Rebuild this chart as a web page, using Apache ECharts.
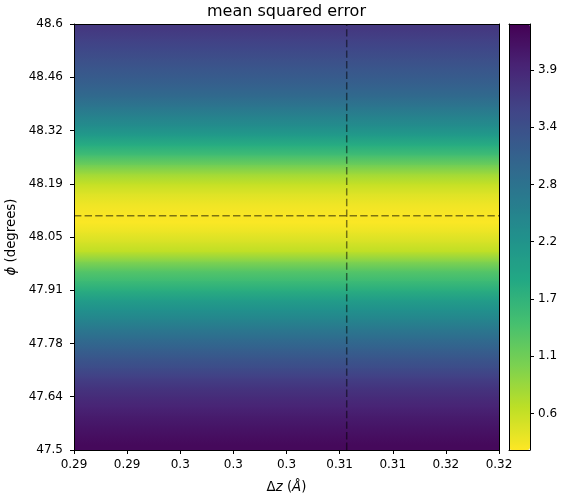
<!DOCTYPE html>
<html>
<head>
<meta charset="utf-8">
<script src="https://cdn.jsdelivr.net/npm/echarts@6/dist/echarts.min.js"></script>
<style>html,body{margin:0;padding:0;background:#fff}#c{width:562px;height:500px}</style>
</head>
<body>
<div id="c"></div>
<script>
// ---- data ----
const phiRows = [47.5125, 47.5375, 47.5625, 47.5875, 47.6125, 47.6375, 47.6625, 47.6875, 47.7125, 47.7375,
  47.7625, 47.7875, 47.8125, 47.8375, 47.8625, 47.8875, 47.9125, 47.9375, 47.9625, 47.9875,
  48.0125, 48.0375, 48.0625, 48.0875, 48.1125, 48.1375, 48.1625, 48.1875, 48.2125, 48.2375,
  48.2625, 48.2875, 48.3125, 48.3375, 48.3625, 48.3875, 48.4125, 48.4375, 48.4625, 48.4875,
  48.5125, 48.5375, 48.5625, 48.5875];
const msePerRow = [4.25, 4.18, 4.11, 4.03, 3.93, 3.83, 3.71, 3.57, 3.40, 3.25,
  3.08, 2.90, 2.70, 2.49, 2.29, 2.08, 1.79, 1.55, 1.34, 1.01,
  0.65, 0.50, 0.37, 0.27, 0.28, 0.35, 0.46, 0.62, 0.84, 1.18,
  1.53, 1.82, 2.13, 2.38, 2.56, 2.76, 2.93, 3.06, 3.17, 3.27,
  3.37, 3.47, 3.57, 3.67];
const mseMin = 0.25, mseMax = 4.34;
const bestDz = 0.30925, bestPhi = 48.105;
const dzRange = [0.29, 0.32];
const phiRange = [47.5, 48.6];
const xTickValues = [0.29, 0.29375, 0.2975, 0.30125, 0.305, 0.30875, 0.3125, 0.31625, 0.32];
const xTickLabels = ["0.29", "0.29", "0.3", "0.3", "0.3", "0.31", "0.31", "0.32", "0.32"];
const yTickValues = [47.5, 47.6375, 47.775, 47.9125, 48.05, 48.1875, 48.325, 48.4625, 48.6];
const yTickLabels = ["47.5", "47.64", "47.78", "47.91", "48.05", "48.19", "48.32", "48.46", "48.6"];
const cbTickValues = [0.6, 1.15, 1.7, 2.25, 2.8, 3.35, 3.9];
const cbTickLabels = ["0.6", "1.1", "1.7", "2.2", "2.8", "3.4", "3.9"];
const viridisR = ['#fde725', '#bddf26', '#7ad151', '#44bf70', '#22a884', '#21918c', '#2a788e', '#355f8d', '#414487', '#482475', '#440154'];

// ---- build table: one band per phi row spanning the dz range ----
const rows = phiRows.map((p, j) => [dzRange[0], p, msePerRow[j]]);
const halfRow = (phiRows[1] - phiRows[0]) / 2;

function labelFor(vals, labs) {
  return function (v) {
    for (let k = 0; k < vals.length; k++) if (Math.abs(vals[k] - v) < 1e-7) return labs[k];
    return '';
  };
}
const FONT = 'DejaVu Sans';
const G = { left: 74, top: 24, width: 425, height: 426 };
const CB = { left: 509, top: 24, width: 21, height: 426 };
const lineBlack = { show: true, onZero: false, lineStyle: { color: '#000', width: 1 } };
const lbl = { color: '#000', fontSize: 12, fontFamily: FONT };
const nameRich = { rich: {
  n: { fontSize: 13.3, fontFamily: FONT, color: '#000' },
  i: { fontSize: 13.3, fontFamily: FONT, fontStyle: 'italic', color: '#000' } } };

// shaded band: gouraud-like fill between this row centre and the next one
function renderBand(params, api) {
  const idx = params.dataIndexInside;
  const n = params.dataInsideLength;
  const p = api.value(1);
  const col = api.visual('color');
  const x0 = api.coord([dzRange[0], p])[0];
  const x1 = api.coord([dzRange[1], p])[0];
  const yc = api.coord([dzRange[0], p])[1];
  const children = [];
  if (idx === 0) {
    const yb = api.coord([dzRange[0], p - halfRow])[1];
    children.push({ type: 'rect', shape: { x: x0, y: yc - 0.5, width: x1 - x0, height: yb - yc + 1.5 }, style: { fill: col } });
  }
  if (idx < n - 1) {
    const pN = api.value(1, idx + 1);
    const colN = api.visual('color', idx + 1);
    const yN = api.coord([dzRange[0], pN])[1];
    children.push({ type: 'rect', shape: { x: x0, y: yN - 0.5, width: x1 - x0, height: yc - yN + 1 },
      style: { fill: { type: 'linear', x: 0, y: 0, x2: 0, y2: 1, colorStops: [{ offset: 0, color: colN }, { offset: 1, color: col }] } } });
  } else {
    const yt = api.coord([dzRange[0], p + halfRow])[1];
    children.push({ type: 'rect', shape: { x: x0, y: yt - 1, width: x1 - x0, height: yc - yt + 1.5 }, style: { fill: col } });
  }
  return { type: 'group', children: children };
}

const chart = echarts.init(document.getElementById('c'), null, { renderer: 'canvas' });
chart.setOption({
  backgroundColor: '#fff',
  animation: false,
  graphic: [{
    type: 'text', x: 286.5, y: 12, z: 100,
    style: { text: 'mean squared error', textAlign: 'center', textVerticalAlign: 'middle', fill: '#000', fontSize: 16, fontFamily: FONT }
  }],
  grid: [
    Object.assign({ show: false, containLabel: false, outerBoundsMode: 'none' }, G),
    Object.assign({ show: false, containLabel: false, outerBoundsMode: 'none' }, CB)
  ],
  visualMap: [{
    type: 'continuous', seriesIndex: 0, dimension: 2, min: mseMin, max: mseMax,
    calculable: false, hoverLink: false, orient: 'vertical',
    left: CB.left, top: CB.top, itemWidth: CB.width, itemHeight: CB.height,
    padding: 0, text: null, showLabel: false,
    inRange: { color: viridisR }
  }],
  xAxis: [
    { gridIndex: 0, type: 'value', min: dzRange[0], max: dzRange[1], position: 'bottom', z: 10,
      axisLine: lineBlack, splitLine: { show: false },
      axisTick: { show: true, length: 4, customValues: xTickValues, lineStyle: { color: '#000' } },
      axisLabel: Object.assign({ customValues: xTickValues, formatter: labelFor(xTickValues, xTickLabels), margin: 9 }, lbl),
      name: '{n|Δ}{i|z}{n| (}{i|Å}{n|)}', nameLocation: 'middle', nameGap: 31, nameTextStyle: nameRich },
    { gridIndex: 0, type: 'value', min: dzRange[0], max: dzRange[1], position: 'top', z: 10,
      axisLine: lineBlack, axisTick: { show: false }, axisLabel: { show: false }, splitLine: { show: false } },
    { gridIndex: 1, type: 'value', min: 0, max: 1, position: 'bottom', z: 10,
      axisLine: lineBlack, axisTick: { show: false }, axisLabel: { show: false }, splitLine: { show: false } },
    { gridIndex: 1, type: 'value', min: 0, max: 1, position: 'top', z: 10,
      axisLine: lineBlack, axisTick: { show: false }, axisLabel: { show: false }, splitLine: { show: false } }
  ],
  yAxis: [
    { gridIndex: 0, type: 'value', min: phiRange[0], max: phiRange[1], position: 'left', z: 10,
      axisLine: lineBlack, splitLine: { show: false },
      axisTick: { show: true, length: 4, customValues: yTickValues, lineStyle: { color: '#000' } },
      axisLabel: Object.assign({ customValues: yTickValues, formatter: labelFor(yTickValues, yTickLabels), margin: 11 }, lbl),
      name: '{i|ϕ}{n| (degrees)}', nameLocation: 'middle', nameGap: 49, nameRotate: 90, nameTextStyle: nameRich },
    { gridIndex: 0, type: 'value', min: phiRange[0], max: phiRange[1], position: 'right', z: 10,
      axisLine: lineBlack, axisTick: { show: false }, axisLabel: { show: false }, splitLine: { show: false } },
    { gridIndex: 1, type: 'value', min: mseMin, max: mseMax, position: 'left', z: 10,
      axisLine: lineBlack, axisTick: { show: false }, axisLabel: { show: false }, splitLine: { show: false } },
    { gridIndex: 1, type: 'value', min: mseMin, max: mseMax, position: 'right', z: 10,
      axisLine: lineBlack, splitLine: { show: false },
      axisTick: { show: true, length: 4, customValues: cbTickValues, lineStyle: { color: '#000' } },
      axisLabel: Object.assign({ customValues: cbTickValues, formatter: labelFor(cbTickValues, cbTickLabels), margin: 8 }, lbl) }
  ],
  series: [
    { type: 'custom', xAxisIndex: 0, yAxisIndex: 0, data: rows, clip: true, z: 1, silent: true,
      encode: { x: 0, y: 1 }, renderItem: renderBand },
    { type: 'line', xAxisIndex: 0, yAxisIndex: 0, symbol: 'none', silent: true, z: 5,
      data: [[bestDz, phiRange[0]], [bestDz, phiRange[1]]],
      lineStyle: { color: 'rgba(0,0,0,0.5)', width: 1.5, type: [7.4, 3.2] } },
    { type: 'line', xAxisIndex: 0, yAxisIndex: 0, symbol: 'none', silent: true, z: 5,
      data: [[dzRange[0], bestPhi], [dzRange[1], bestPhi]],
      lineStyle: { color: 'rgba(0,0,0,0.5)', width: 1.5, type: [7.4, 3.2] } }
  ]
});
</script>
</body>
</html>
